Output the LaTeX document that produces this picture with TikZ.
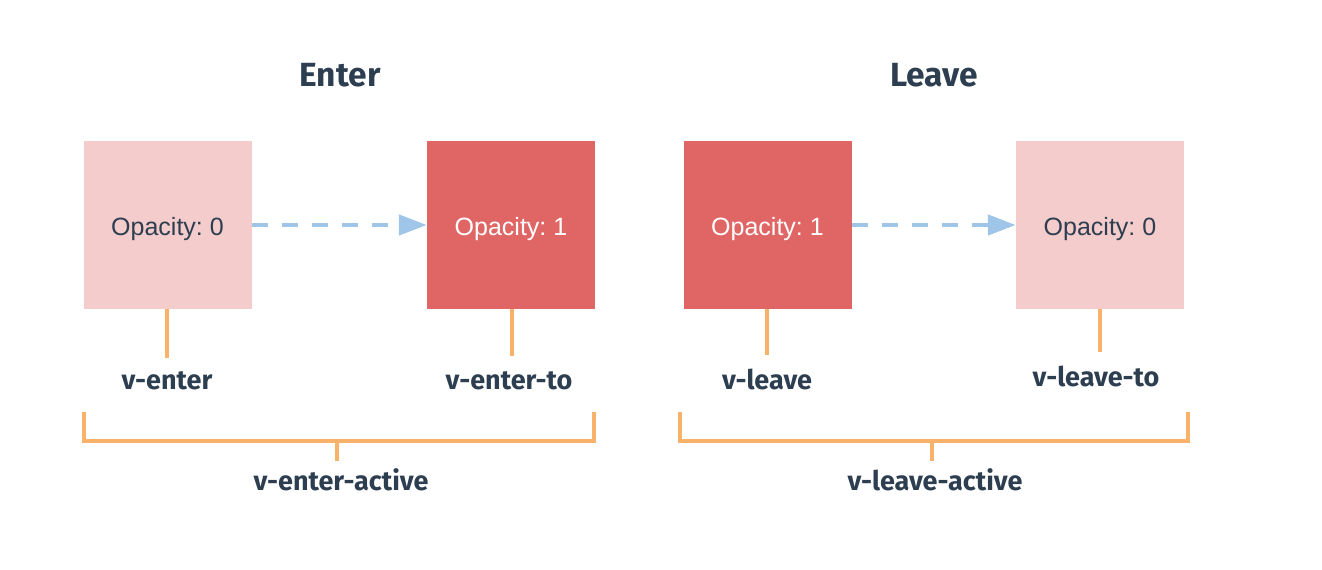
\documentclass[tikz,border=0pt]{standalone}
\usepackage{fontspec}
\setmainfont{Fira Sans}
\newfontfamily\boxfont{Liberation Sans}
\usetikzlibrary{arrows.meta}
\frenchspacing
\definecolor{lightpink}{HTML}{F4CCCB}
\definecolor{redbox}{HTML}{E06665}
\definecolor{navy}{HTML}{2C3E50}
\definecolor{orangeline}{HTML}{F8B26A}
\definecolor{arrowblue}{HTML}{9FC5E8}
\tikzset{
  statebox/.style={minimum width=168pt,minimum height=168pt,inner sep=0pt,text height=20pt,text depth=0pt,font=\boxfont\fontsize{25}{29}\selectfont},
  lightbox/.style={statebox,fill=lightpink,text=navy},
  darkbox/.style={statebox,fill=redbox,text=white},
  lbl/.style={font=\bfseries\fontsize{27}{31}\selectfont,text=navy,inner sep=0pt,anchor=base},
  ttl/.style={font=\bfseries\fontsize{33.5}{37}\selectfont,text=navy,inner sep=0pt,anchor=base},
  oline/.style={draw=orangeline,line width=3.5pt},
  flow/.style={draw=arrowblue,line width=4.5pt,dash pattern=on 16.7pt off 13.3pt,-{Triangle[length=28pt,width=20pt]}},
}
\begin{document}
\begin{tikzpicture}[x=1pt,y=-1pt]
\useasboundingbox (0,0) rectangle (1322,570);
% titles
\node[ttl] (tEnter) at (340,86) {Enter};
\node[ttl] (tLeave) at (934,86) {Leave};
% boxes
\node[lightbox] (b1) at (167.5,225) {Opacity: 0};
\node[darkbox]  (b2) at (511,225) {Opacity: 1};
\node[darkbox]  (b3) at (767.5,225) {Opacity: 1};
\node[lightbox] (b4) at (1100,225) {Opacity: 0};
% arrows
\draw[flow] (b1.east) -- (b2.west);
\draw[flow] (b3.east) -- (b4.west);
% labels
\node[lbl] (l1) at (167,389) {v-enter};
\node[lbl] (l2) at (509,389) {v-enter-to};
\node[lbl] (l3) at (767,389) {v-leave};
\node[lbl] (l4) at (1096,386) {v-leave-to};
\node[lbl] (la) at (341,490) {v-enter-active};
\node[lbl] (lb) at (935,490) {v-leave-active};
% stems
\coordinate (s1) at (167,358);
\coordinate (s2) at (512,356);
\coordinate (s3) at (767,355);
\coordinate (s4) at (1100,352);
\draw[oline] (b1.south -| s1) -- (s1);
\draw[oline] (b2.south -| s2) -- (s2);
\draw[oline] (b3.south -| s3) -- (s3);
\draw[oline] (b4.south -| s4) -- (s4);
% brackets
\coordinate (e1) at (84,412);
\coordinate (e2) at (594,412);
\coordinate (em) at (337,441);
\coordinate (et) at (337,461);
\draw[oline,line join=miter] (e1) -- (84,441) -- (594,441) -- (e2);
\draw[oline] (em) -- (et);
\coordinate (f1) at (680,412);
\coordinate (f2) at (1188,412);
\coordinate (fm) at (932,441);
\coordinate (ft) at (932,461);
\draw[oline,line join=miter] (f1) -- (680,441) -- (1188,441) -- (f2);
\draw[oline] (fm) -- (ft);
\end{tikzpicture}
\end{document}
